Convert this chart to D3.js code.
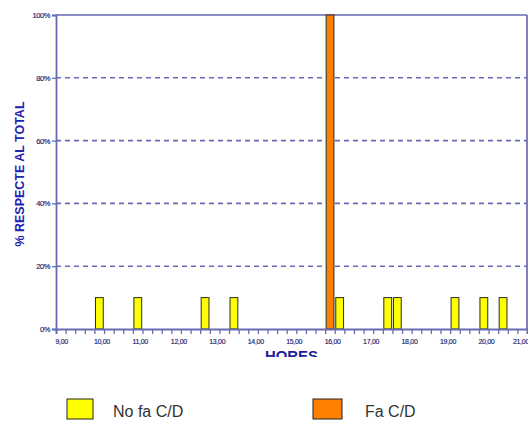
<!DOCTYPE html>
<html><head><meta charset="utf-8">
<script src="https://cdn.jsdelivr.net/npm/d3@7"></script>
<style>html,body{margin:0;padding:0;background:#fff;}svg{display:block;}</style>
</head><body>
<svg id="c" width="528" height="423"></svg>
<script>
// Data (bin start time in hours, 15-minute bins)
const noFaHours = [10, 11, 12.75, 13.5, 16.25, 17.5, 17.75, 19.25, 20, 20.5];
const noFaValues = [10, 10, 10, 10, 10, 10, 10, 10, 10, 10];
const faHours = [16];
const faValues = [100];
const xTickHours = [9, 10, 11, 12, 13, 14, 15, 16, 17, 18, 19, 20, 21];
const xTickLabels = ["9,00","10,00","11,00","12,00","13,00","14,00","15,00","16,00","17,00","18,00","19,00","20,00","21,00"];
const yTicks = [0, 20, 40, 60, 80, 100];
const yTickLabels = ["0%","20%","40%","60%","80%","100%"];
const seriesNames = ["No fa C/D", "Fa C/D"];
const seriesColors = ["#ffff00", "#ff8000"];
const binSize = 0.25;

const svg = d3.select("#c");
const L = 56, R = 527, T = 15, B = 329;
const x = d3.scaleLinear().domain([9, 21.25]).range([L, R]);
const y = d3.scaleLinear().domain([0, 100]).range([B, T]);
const axisCol = "#6a6ab4";
const labCol = "#1a1a70";
const titleCol = "#2323b0";

// gridlines
svg.append("g").selectAll("line").data(yTicks.filter(v => v > 0 && v < 100)).join("line")
  .attr("x1", L).attr("x2", R).attr("y1", d => y(d)).attr("y2", d => y(d))
  .attr("stroke", axisCol).attr("stroke-width", 1.6).attr("stroke-dasharray", "5,4");

// top and right border
svg.append("line").attr("x1", L).attr("x2", R).attr("y1", y(100)).attr("y2", y(100))
  .attr("stroke", axisCol).attr("stroke-width", 1.7);
svg.append("line").attr("x1", R).attr("x2", R).attr("y1", T).attr("y2", B)
  .attr("stroke", axisCol).attr("stroke-width", 1.7);

// bars
const bw = x(binSize) - x(0);
function drawBars(hours, vals, color) {
  svg.append("g").selectAll("rect").data(hours.map((h, i) => ({h, v: vals[i]}))).join("rect")
    .attr("x", d => x(d.h) + 1)
    .attr("width", bw - 1.8)
    .attr("y", d => y(d.v))
    .attr("height", d => y(0) - y(d.v))
    .attr("fill", color)
    .attr("stroke", "#2a2a2a").attr("stroke-width", 1);
}
drawBars(noFaHours, noFaValues, seriesColors[0]);
drawBars(faHours, faValues, seriesColors[1]);

// x axis
const xTicksAll = d3.range(9, 21.25 + 1e-9, binSize);
const xAxis = d3.axisBottom(x).tickValues(xTicksAll).tickSize(5).tickFormat("");
const gx = svg.append("g").attr("transform", `translate(0,${B})`).call(xAxis);
gx.select(".domain").attr("stroke", axisCol).attr("stroke-width", 1.8);
gx.selectAll(".tick line").attr("stroke", axisCol).attr("stroke-width", 1.3);
svg.append("g").selectAll("text").data(xTickHours).join("text")
  .attr("x", d => Math.min(x(d) - 0.5, 513)).attr("y", 343.5)
  .attr("font-family", "Liberation Sans, Arial, sans-serif").attr("font-size", "7px")
  .attr("letter-spacing", "-0.3").attr("fill", labCol)
  .attr("stroke", labCol).attr("stroke-width", 0.15)
  .text((d, i) => xTickLabels[i]);

// y axis
const yAxis = d3.axisLeft(y).tickValues(yTicks).tickSize(4).tickFormat((d, i) => yTickLabels[i]).tickPadding(2);
const gy = svg.append("g").attr("transform", `translate(${L},0)`).call(yAxis);
gy.select(".domain").attr("stroke", axisCol).attr("stroke-width", 1.8);
gy.selectAll(".tick line").attr("stroke", axisCol).attr("stroke-width", 1.3);
gy.selectAll(".tick text").attr("font-family", "Liberation Sans, Arial, sans-serif")
  .attr("font-size", "7.5px").attr("letter-spacing", "-0.4").attr("fill", labCol)
  .attr("stroke", labCol).attr("stroke-width", 0.15);

// y title
svg.append("text").attr("transform", "translate(24,174) rotate(-90)")
  .attr("text-anchor", "middle")
  .attr("font-family", "Liberation Sans, Arial, sans-serif").attr("font-weight", "bold")
  .attr("font-size", "12px").attr("fill", titleCol)
  .attr("textLength", 145).attr("lengthAdjust", "spacingAndGlyphs")
  .text("% RESPECTE AL TOTAL");

// x title (clipped at bottom as in the reference)
svg.append("clipPath").attr("id", "xtclip").append("rect")
  .attr("x", 0).attr("y", 0).attr("width", 528).attr("height", 357);
svg.append("text").attr("x", 291.5).attr("y", 361)
  .attr("clip-path", "url(#xtclip)")
  .attr("text-anchor", "middle")
  .attr("font-family", "Liberation Sans, Arial, sans-serif").attr("font-weight", "bold")
  .attr("font-size", "15px").attr("fill", "#1e1e9a")
  .attr("textLength", 53).attr("lengthAdjust", "spacingAndGlyphs")
  .text("HORES");

// legend
const legX = [67, 313];
const legTX = [113, 365];
const lg = svg.append("g").selectAll("g").data(seriesNames).join("g");
lg.append("rect").attr("x", (d, i) => legX[i]).attr("y", 399)
  .attr("width", (d, i) => i === 0 ? 26 : 29).attr("height", 20)
  .attr("fill", (d, i) => seriesColors[i]).attr("stroke", "#222").attr("stroke-width", 1);
lg.append("text").attr("x", (d, i) => legTX[i]).attr("y", 416.5)
  .attr("font-family", "Liberation Sans, Arial, sans-serif").attr("font-size", "16px")
  .attr("fill", "#333")
  .text(d => d);
</script>
</body></html>
